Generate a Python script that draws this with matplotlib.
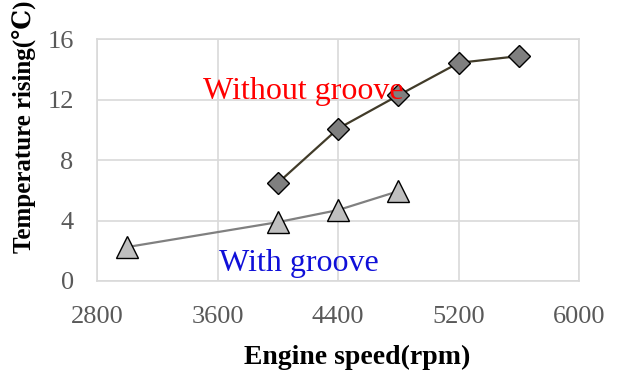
import matplotlib
matplotlib.use("Agg")
import matplotlib.pyplot as plt

# Engine speed (rpm) and temperature rise (degC)
speed_without = [4000, 4400, 4800, 5200, 5600]
temp_without = [6.5, 10.1, 12.3, 14.45, 14.9]

speed_with = [3000, 4000, 4400, 4800]
temp_with = [2.25, 3.9, 4.7, 5.95]

x_ticks = [2800, 3600, 4400, 5200, 6000]
y_ticks = [0, 4, 8, 12, 16]

SERIF = ["Liberation Serif", "DejaVu Serif"]
plt.rcParams["font.family"] = SERIF

fig = plt.figure(figsize=(6.2, 3.76), dpi=100)
ax = fig.add_axes([0.157, 0.2527, 0.777, 0.6423])

ax.plot(speed_without, temp_without, color="#413B29", lw=1.6,
        marker="D", ms=11.3, mfc="#7F7F7F", mec="black", mew=1.0, zorder=3)
ax.plot(speed_with, temp_with, color="#808080", lw=1.6,
        marker="^", ms=16, mfc="#BFBFBF", mec="black", mew=1.0, zorder=3)

ax.set_xlim(2800, 6000)
ax.set_ylim(0, 16)
ax.set_xticks(x_ticks)
ax.set_yticks(y_ticks)
ax.grid(True, color="#D9D9D9", lw=1.2)
ax.set_axisbelow(True)
for s in ax.spines.values():
    s.set_color("#D9D9D9")
    s.set_linewidth(1.2)
ax.tick_params(length=0, labelsize=19, labelcolor="#595959")
ax.tick_params(axis="y", pad=17)
ax.tick_params(axis="x", pad=18)

ax.text(3500, 12.05, "Without groove", color="#FF0000", fontsize=23,
        va="baseline", ha="left")
ax.text(3610, 0.68, "With groove", color="#1010D8", fontsize=23,
        va="baseline", ha="left")

fig.text(357 / 620, 1 - 357 / 376, "Engine speed(rpm)", fontsize=20,
         fontweight="bold", ha="center", va="center")
fig.text(25 / 620, 1 - 127 / 376, "Temperature rising(\u2103)", fontsize=18,
         fontweight="bold", ha="center", va="center", rotation=90)

fig.savefig("out.png", dpi=100)
